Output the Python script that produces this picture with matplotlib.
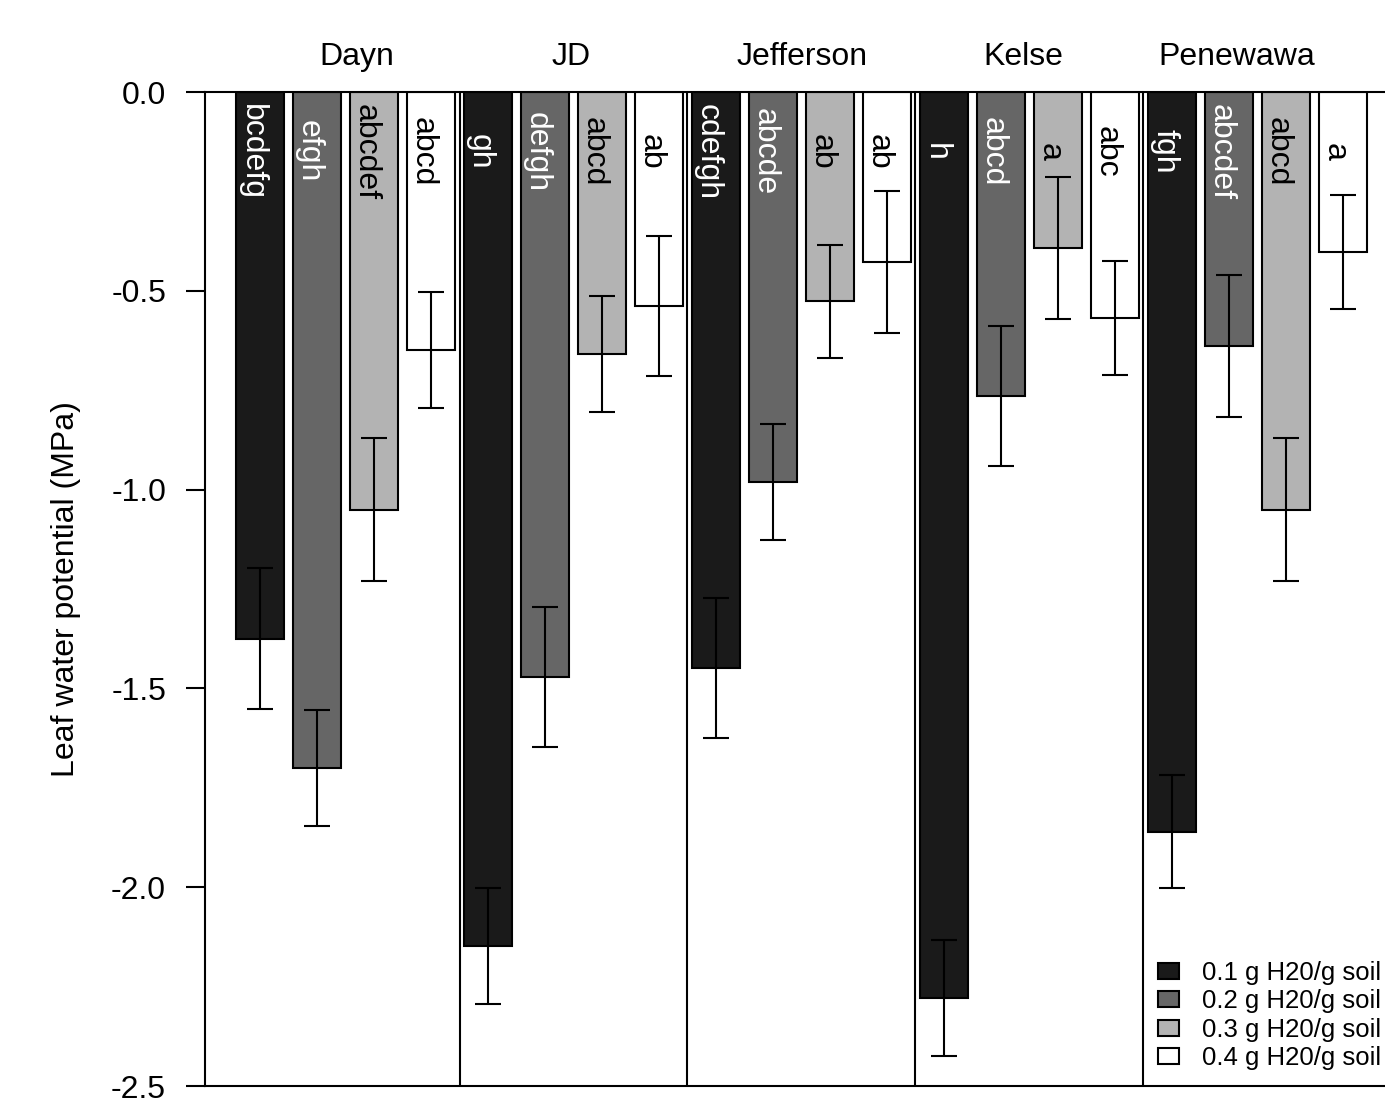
import matplotlib
matplotlib.use("Agg")
import matplotlib.pyplot as plt
from matplotlib.patches import Patch
import numpy as np

plt.rcParams['font.family'] = ['Liberation Sans', 'DejaVu Sans']

cultivars = ["Dayn", "JD", "Jefferson", "Kelse", "Penewawa"]
treatments = ["0.1 g H20/g soil", "0.2 g H20/g soil", "0.3 g H20/g soil", "0.4 g H20/g soil"]
colors = ["#1a1a1a", "#666666", "#b3b3b3", "#ffffff"]
text_colors = ["white", "white", "black", "black"]

# mean leaf water potential (MPa), per cultivar, per treatment
means = [
    [-1.375, -1.70, -1.051, -0.649],   # Dayn
    [-2.148, -1.471, -0.659, -0.538],  # JD
    [-1.449, -0.981, -0.526, -0.428],  # Jefferson
    [-2.279, -0.765, -0.392, -0.568],  # Kelse
    [-1.861, -0.639, -1.051, -0.402],  # Penewawa
]
errors = [
    [0.178, 0.145, 0.180, 0.146],
    [0.146, 0.176, 0.146, 0.177],
    [0.177, 0.145, 0.142, 0.178],
    [0.145, 0.176, 0.178, 0.143],
    [0.142, 0.178, 0.180, 0.143],
]
letters = [
    ["bcdefg", "efgh", "abcdef", "abcd"],
    ["gh", "defgh", "abcd", "ab"],
    ["cdefgh", "abcde", "ab", "ab"],
    ["h", "abcd", "a", "abc"],
    ["fgh", "abcdef", "abcd", "a"],
]
label_x = [1.70, 5.46, 9.51, 13.39, 17.14]
yticks = [0.0, -0.5, -1.0, -1.5, -2.0, -2.5]

fig = plt.figure(figsize=(13.85, 11.0), dpi=100)
ax = fig.add_axes([205/1385, 1-1086/1100, 1-205/1385, (1086-92)/1100])

FS = 23
n_t = len(treatments)
for i, cult in enumerate(cultivars):
    for j in range(n_t):
        x = i * n_t + j
        ax.bar(x, means[i][j], width=0.825, color=colors[j], edgecolor="black",
               linewidth=1.5, zorder=2)
        ax.errorbar(x, means[i][j], yerr=errors[i][j], fmt="none", ecolor="black",
                    elinewidth=1.5, capsize=9.5, capthick=1.5, zorder=3)
        ax.text(x - 0.14, -0.15, letters[i][j], rotation=-90, ha="center", va="center",
                color=text_colors[j], fontsize=FS, zorder=4)
    ax.text(label_x[i], 0.088, cult, ha="center", va="center", fontsize=FS, clip_on=False)
    if i > 0:
        ax.plot([i * n_t - 0.5, i * n_t - 0.5], [-2.5, 0], color="black", lw=1.5, zorder=1)

ax.set_xlim(-0.965, 19.737)
ax.set_ylim(-2.5, 0)
ax.set_yticks(yticks)
ax.set_yticklabels([f"{v:.1f}" for v in yticks], fontsize=FS)
ax.tick_params(axis="y", direction="out", length=14, width=1.5, pad=14)
ax.set_xticks([])
ax.spines["right"].set_visible(False)
for s in ["left", "top", "bottom"]:
    ax.spines[s].set_linewidth(1.5)
ax.set_ylabel("Leaf water potential (MPa)", fontsize=FS, labelpad=22)

handles = [Patch(facecolor=c, edgecolor="black", linewidth=1.5) for c in colors]
fig.legend(handles, treatments, loc="upper left", bbox_to_anchor=(1158/1385, 1-961/1100),
           frameon=False, fontsize=18.5, handlelength=0.82, handleheight=0.58,
           handletextpad=0.88, labelspacing=0.17, borderpad=0, borderaxespad=0)

fig.savefig("out.png", dpi=100)
